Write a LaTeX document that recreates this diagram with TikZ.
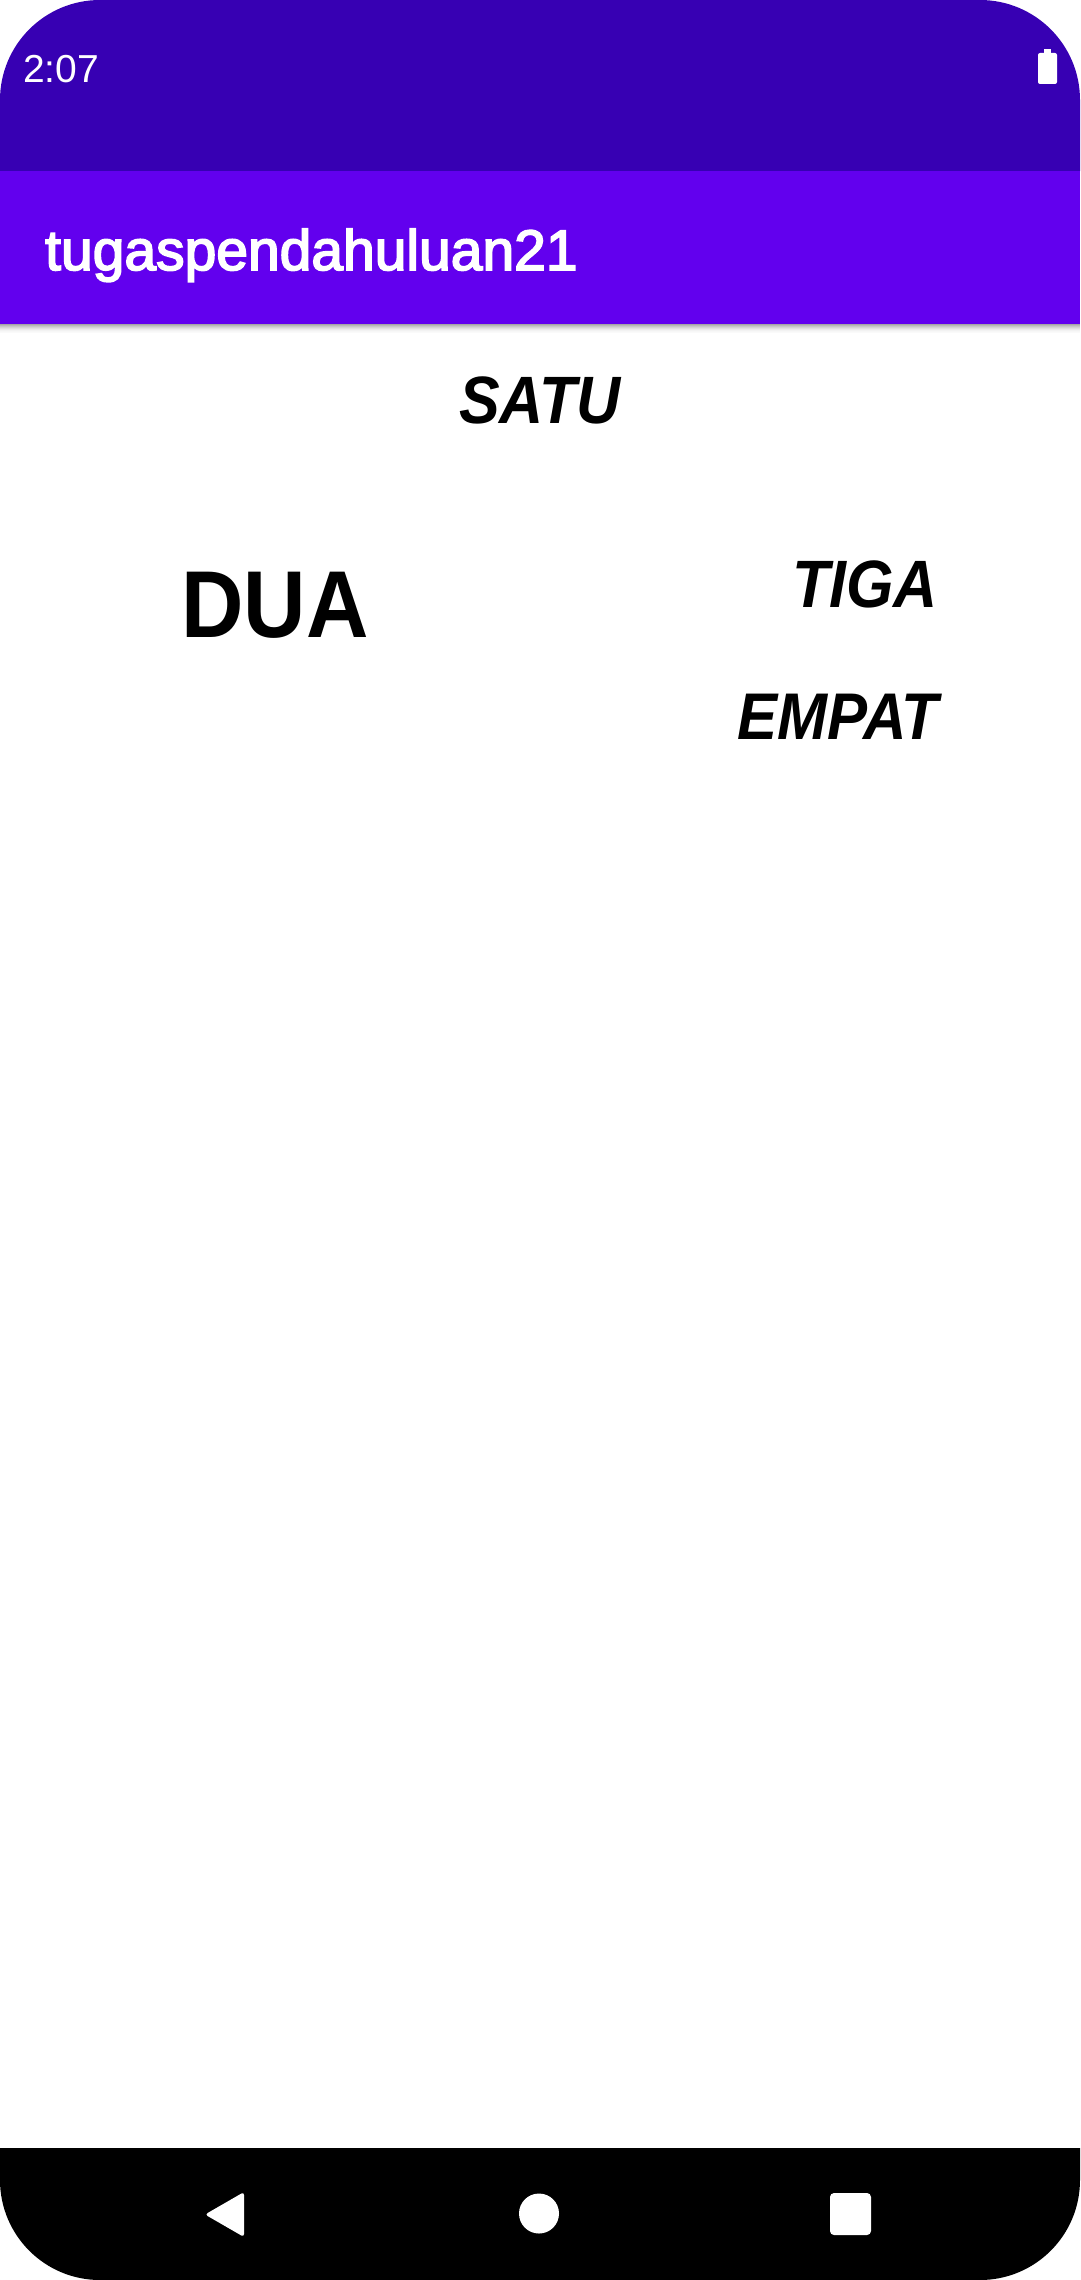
\documentclass[tikz,border=0pt]{standalone}
\usepackage{fontspec}
\setmainfont{Liberation Sans}
\newfontfamily\condbold[FakeStretch=0.91]{Liberation Sans}
\newfontfamily\medfont[FakeBold=3]{Liberation Sans}
\definecolor{statusbar}{HTML}{3700B3}
\definecolor{appbar}{HTML}{6200EE}
\begin{document}
\begin{tikzpicture}[x=1pt,y=-1pt,
  label/.style={inner sep=0pt,outer sep=0pt,anchor=base,text=black},
  ital/.style={label,font=\condbold\fontsize{67}{67}\selectfont\bfseries\itshape},
  navicon/.style={fill=white,draw=none}]
\useasboundingbox (0,0) rectangle (1080,2280);
\fill[white] (0,0) rectangle (1080,2280);
% status bar with rounded top corners
\fill[statusbar] (0,171) -- (0,100) arc[start angle=180,end angle=270,radius=100] -- (980,0) arc[start angle=270,end angle=360,radius=100] -- (1080,171) -- cycle;
% app bar
\fill[appbar] (0,171) rectangle (1080,324);
% shadow
\foreach \i/\c in {0/35,1/28,2/22,3/17,4/12,5/8,6/5,7/3,8/2}{
  \fill[black!\c] (0,324+\i) rectangle (1080,325+\i);
}
\node[inner sep=0pt,anchor=base west,text=white,font=\fontsize{39}{39}\selectfont] (time) at (23,83) {2:07};
% battery
\fill[white,rounded corners=2pt] (1038,53) rectangle (1057,84);
\fill[white] (1044,49) rectangle (1051,54);
\node[inner sep=0pt,anchor=base west,text=white,font=\medfont\fontsize{57}{57}\selectfont] (title) at (45,270) {tugaspendahuluan21};
% content
\node[ital] (satu) at (540,423) {SATU};
\node[label,font=\condbold\fontsize{95}{95}\selectfont\bfseries] (dua) at (275,637) {DUA};
\node[ital] (tiga) at (865,607) {TIGA};
\node[ital,font=\condbold\fontsize{66}{66}\selectfont\bfseries\itshape] (empat) at (838,739) {EMPAT};
% navigation bar
\fill[black] (0,2148) -- (1080,2148) -- (1080,2180) arc[start angle=0,end angle=90,radius=100] -- (100,2280) arc[start angle=90,end angle=180,radius=100] -- cycle;
\fill[navicon,rounded corners=3pt] (244,2192) -- (244,2237) -- (205,2214.5) -- cycle;
\fill[navicon] (539,2213.5) circle[radius=20];
\fill[navicon,rounded corners=4pt] (830,2193) rectangle (871,2235);
\end{tikzpicture}
\end{document}
